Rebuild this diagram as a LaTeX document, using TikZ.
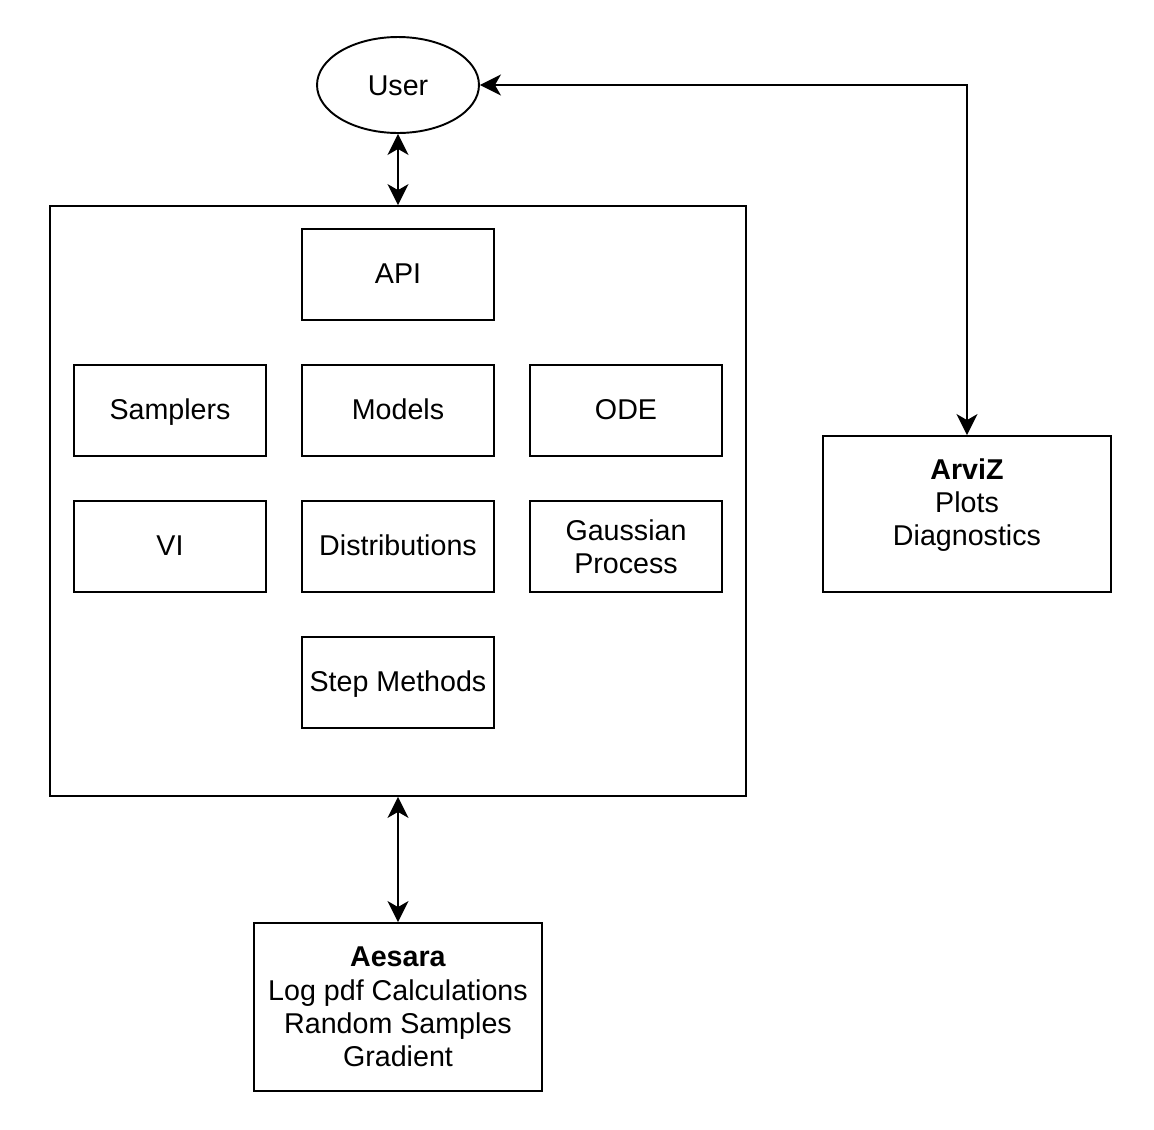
\documentclass[tikz,border=0pt]{standalone}
\usepackage{fontspec}
\setmainfont{Liberation Sans}
\usetikzlibrary{arrows.meta,shapes.geometric}
\begin{document}
\begin{tikzpicture}[x=0.02cm,y=-0.02cm,
  every node/.style={font=\fontsize{16.3}{19}\selectfont},
  comp/.style={draw,line width=1.1pt,minimum width=3.84cm,minimum height=1.82cm,inner sep=0pt,align=center},
  one/.style={text height=1.23em,text depth=0.21em},
  ext/.style={draw,line width=1.1pt,inner sep=0pt,align=center},
  conn/.style={line width=1.1pt,{Stealth[length=0.42cm,width=0.42cm,inset=0.12cm]}-{Stealth[length=0.42cm,width=0.42cm,inset=0.12cm]}}
]
\useasboundingbox (0,0) rectangle (1154,1130);
\node[draw,ellipse,line width=1.1pt,minimum width=3.24cm,minimum height=1.92cm,inner sep=0pt,text height=1.45em,text depth=0.21em] (user) at (398,85) {User};
\node[draw,line width=1.1pt,minimum width=13.92cm,minimum height=11.8cm,inner sep=0pt] (core) at (398,501) {};
\node[comp,one] (api) at (398,274.5) {API};
\node[comp,one] (samp) at (170,410.5) {Samplers};
\node[comp,one] (models) at (398,410.5) {Models};
\node[comp,one] (ode) at (626,410.5) {ODE};
\node[comp,one] (vi) at (170,546.5) {VI};
\node[comp,one] (dist) at (398,546.5) {Distributions};
\node[comp] (gp) at (626,546.5) {Gaussian\\Process};
\node[comp,one] (step) at (398,682.5) {Step Methods};
\node[ext,minimum width=5.76cm,minimum height=3.36cm] (aesara) at (398,1007) {\textbf{Aesara}\\Log pdf Calculations\\Random Samples\\Gradient};
\node[ext,minimum width=5.76cm,minimum height=3.12cm] (arviz) at (967,514) {};
\node[align=center,inner sep=0pt] (arviztext) at (967,505) {\textbf{ArviZ}\\Plots\\Diagnostics};
\draw[conn] (user.south) -- (core.north);
\draw[conn] (core.south) -- (aesara.north);
\draw[conn] (user.east) -| (arviz.north);
\end{tikzpicture}
\end{document}
